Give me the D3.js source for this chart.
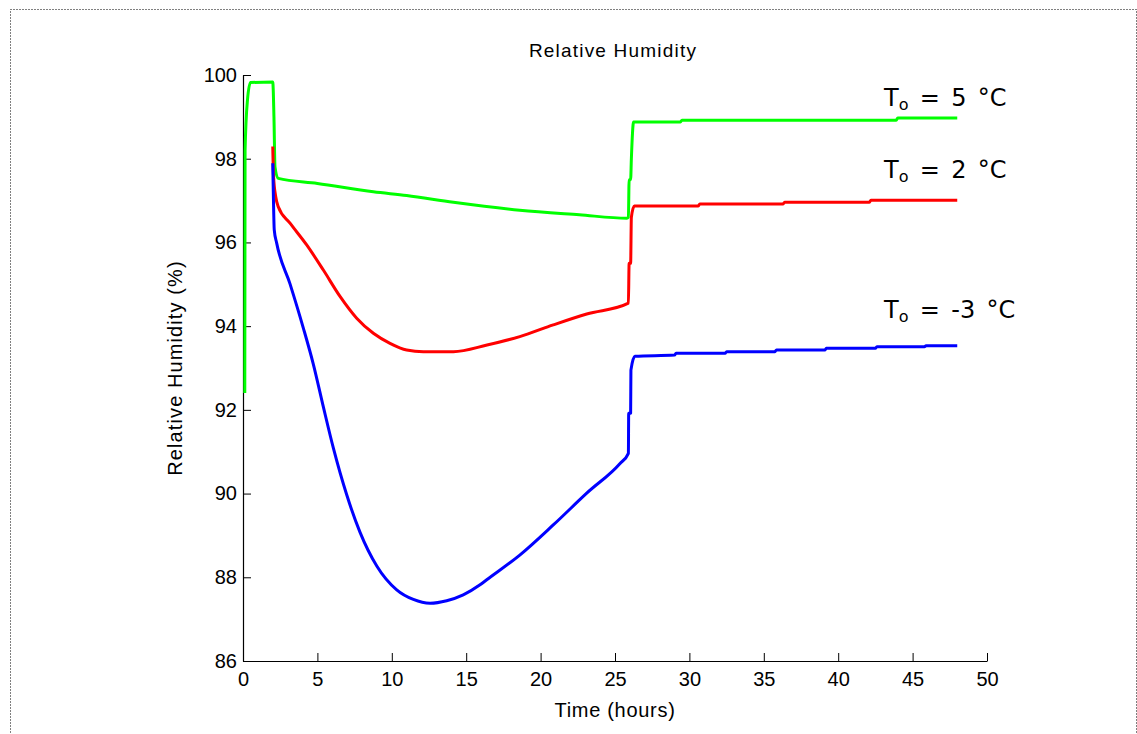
<!DOCTYPE html>
<html>
<head>
<meta charset="utf-8">
<script src="https://cdn.jsdelivr.net/npm/d3@7"></script>
<style>
  body { margin: 0; background: #fff; }
</style>
</head>
<body>
<script>

// tick values
var xTicks = [0, 5, 10, 15, 20, 25, 30, 35, 40, 45, 50];
var yTicks = [86, 88, 90, 92, 94, 96, 98, 100];

// To = 5 C  (green)
var tGreen  = [0.12, 0.14, 0.3, 0.5, 2.0, 2.08, 2.15, 2.37, 5.0, 8.76, 11.0, 14.14, 18.6, 22.6, 25.8, 25.9, 25.95, 26.05, 26.1, 26.25, 29.4, 29.5, 43.9, 44.0, 48.0];
var rhGreen = [92.4, 98.2, 99.4, 99.82, 99.83, 99.0, 97.8, 97.53, 97.41, 97.21, 97.12, 96.96, 96.77, 96.66, 96.58, 96.6, 97.5, 97.5, 98.0, 98.88, 98.88, 98.92, 98.92, 98.97, 98.97];

// To = 2 C  (red)
var tRed  = [2.0, 2.05, 2.2, 2.37, 3.16, 4.28, 5.4, 6.52, 7.64, 8.76, 9.88, 11.0, 12.12, 14.14, 16.4, 18.6, 20.85, 23.1, 25.9, 25.95, 26.05, 26.1, 26.3, 30.6, 30.7, 36.3, 36.4, 42.1, 42.2, 48.0];
var rhRed = [98.29, 97.6, 97.09, 96.85, 96.46, 95.94, 95.34, 94.71, 94.19, 93.83, 93.59, 93.43, 93.39, 93.39, 93.55, 93.75, 94.03, 94.29, 94.55, 95.5, 95.5, 96.6, 96.87, 96.87, 96.92, 96.92, 96.96, 96.96, 97.01, 97.01];

// To = -3 C  (blue)
var tBlue  = [2.0, 2.03, 2.1, 2.26, 3.16, 4.05, 4.72, 5.40, 6.07, 6.97, 7.86, 8.99, 10.33, 11.45, 12.57, 13.69, 14.8, 15.93, 16.38, 18.6, 20.85, 23.1, 25.34, 25.9, 25.92, 26.05, 26.07, 26.34, 29.0, 29.1, 32.4, 32.5, 35.75, 35.85, 39.1, 39.2, 42.5, 42.6, 45.8, 45.9, 48.0];
var rhBlue = [97.89, 97.33, 96.3, 95.99, 95.01, 93.96, 93.10, 92.07, 91.09, 89.97, 89.08, 88.27, 87.70, 87.47, 87.38, 87.44, 87.58, 87.82, 87.94, 88.53, 89.25, 90.01, 90.72, 90.96, 91.92, 91.92, 92.95, 93.28, 93.31, 93.35, 93.35, 93.39, 93.39, 93.43, 93.43, 93.47, 93.47, 93.51, 93.51, 93.53, 93.53];

var seriesNames  = ["5", "2", "-3"];
var seriesColors = ["#00ff00", "#ff0000", "#0000ff"];

var width = 1137, height = 734;
var sansFont = "'Liberation Sans', Arial, sans-serif";

var svg = d3.select("body").append("svg")
    .attr("width", width)
    .attr("height", height);

// dotted figure border
svg.append("rect")
    .attr("x", 10.5).attr("y", 9.5)
    .attr("width", 1126).attr("height", 740)
    .attr("fill", "none")
    .attr("stroke", "#000")
    .attr("stroke-width", 1)
    .attr("stroke-dasharray", "1,2");

var xScale = d3.scaleLinear().domain([0, 50]).range([243, 987]);
var yScale = d3.scaleLinear().domain([86, 100]).range([661, 75]);

var xAxis = d3.axisBottom(xScale).tickValues(xTicks).tickSizeInner(-8).tickSizeOuter(0).tickPadding(11);
var yAxis = d3.axisLeft(yScale).tickValues(yTicks).tickSizeInner(-8).tickSizeOuter(0).tickPadding(6);

function styleAxis(g){
    g.select(".domain").attr("stroke", "#000").attr("stroke-width", 1.2);
    g.selectAll(".tick line").attr("stroke", "#000").attr("stroke-width", 1);
    g.selectAll(".tick text")
        .style("font-family", sansFont)
        .style("font-size", "20px")
        .attr("fill", "#000");
}

svg.append("g")
    .attr("transform", "translate(0,661)")
    .call(xAxis)
    .call(styleAxis);

svg.append("g")
    .attr("transform", "translate(243,0)")
    .call(yAxis)
    .call(styleAxis);

// title and axis labels
svg.append("text")
    .attr("x", 613).attr("y", 57)
    .attr("text-anchor", "middle")
    .style("font-family", sansFont)
    .style("font-size", "19px")
    .style("letter-spacing", "1.2px")
    .text("Relative Humidity");

svg.append("text")
    .attr("x", 615).attr("y", 717)
    .attr("text-anchor", "middle")
    .style("font-family", sansFont)
    .style("font-size", "20px")
    .style("letter-spacing", "0.7px")
    .text("Time (hours)");

svg.append("text")
    .attr("transform", "translate(182,368) rotate(-90)")
    .attr("text-anchor", "middle")
    .style("font-family", sansFont)
    .style("font-size", "20px")
    .style("letter-spacing", "1.1px")
    .text("Relative Humidity (%)");

// curves
var line = d3.line()
    .curve(d3.curveMonotoneX)
    .x(function(d){ return xScale(d[0]); })
    .y(function(d){ return yScale(d[1]); });

var series = [
    d3.zip(tGreen, rhGreen),
    d3.zip(tRed, rhRed),
    d3.zip(tBlue, rhBlue)
];

series.forEach(function(s, i){
    svg.append("path")
        .datum(s)
        .attr("d", line)
        .attr("fill", "none")
        .attr("stroke", seriesColors[i])
        .attr("stroke-width", 3)
        .attr("stroke-linejoin", "round");
});

// curve labels, T with subscript o
var labelY = [106, 178, 318];
seriesNames.forEach(function(n, i){
    var t = svg.append("text")
        .attr("x", 884).attr("y", labelY[i])
        .style("font-family", "'DejaVu Sans', sans-serif")
        .style("font-size", "24px")
        .style("white-space", "pre")
        .style("word-spacing", "3.7px")
        .attr("fill", "#000");
    t.append("tspan").text("T");
    t.append("tspan").style("font-size", "16px").attr("dy", 4).text("o");
    t.append("tspan").attr("dy", -4).text(" = " + n + " \u00B0C");
});

</script>
</body>
</html>
